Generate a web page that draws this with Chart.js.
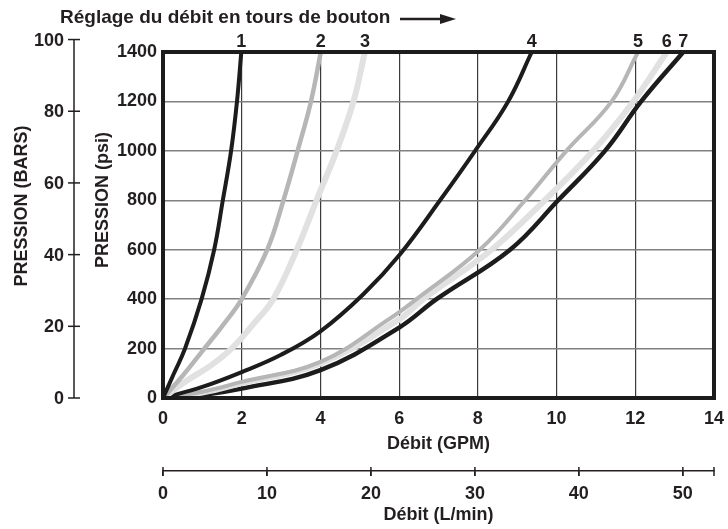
<!DOCTYPE html>
<html>
<head>
<meta charset="utf-8">
<script src="https://cdn.jsdelivr.net/npm/chart.js@4.4.0/dist/chart.umd.min.js"></script>
<style>
  html, body { margin: 0; padding: 0; background: #fff; }
  #wrap { width: 728px; height: 529px; position: relative; }
</style>
</head>
<body>
<div id="wrap"><canvas id="chart"></canvas></div>
<script>
// flow (GPM) / pressure (psi), one pair per knob setting
const gpm1 = [0, 0.28, 0.56, 0.98, 1.30, 1.52, 1.73, 1.88, 1.99];
const psi1 = [0, 100, 200, 400, 600, 800, 1000, 1200, 1400];
const gpm2 = [0, 0.5, 1.0, 1.5, 2.0, 2.65, 3.06, 3.42, 3.76, 4.01];
const psi2 = [0, 90, 190, 290, 400, 600, 800, 1000, 1200, 1400];
const gpm3 = [0, 0.6, 1.2, 1.74, 2.3, 2.8, 3.40, 3.90, 4.41, 4.84, 5.13];
const psi3 = [0, 70, 130, 200, 300, 400, 600, 800, 1000, 1200, 1400];
const gpm4 = [0, 1, 2, 3, 4, 5.09, 6.04, 7.04, 7.93, 8.77, 9.37];
const psi4 = [0, 45, 105, 175, 270, 420, 585, 800, 1000, 1200, 1400];
const gpm5 = [0, 1, 2, 4, 5.77, 6.44, 8.05, 9.2, 10.25, 11.40, 12.07];
const psi5 = [0, 25, 65, 146, 322, 400, 600, 800, 1000, 1200, 1400];
const gpm6 = [0, 1, 2, 4, 6, 6.61, 8.35, 9.7, 10.93, 11.95, 12.80];
const psi6 = [0, 22, 60, 140, 318, 400, 600, 800, 1000, 1200, 1400];
const gpm7 = [0, 1, 2, 4, 6, 6.95, 8.82, 10.04, 11.23, 12.15, 13.22];
const psi7 = [0, 12, 38, 113, 285, 400, 600, 800, 1000, 1200, 1400];

const curveLabels = ['1', '2', '3', '4', '5', '6', '7'];
const barTicks = [0, 20, 40, 60, 80, 100];
const PSI_PER_BAR = 14.5038;
const LPM_PER_GPM = 3.78541;

const ink = '#231f20';
const black = '#1c1c1c';
const midGray = '#b6b6b6';
const lightGray = '#e1e1e1';
const curveColors = [black, midGray, lightGray, black, midGray, lightGray, black];
const curveWidths = [4, 4.5, 6, 4, 4, 6, 4.5];
const FONT = '"Liberation Sans", Arial, sans-serif';

const gpmSets = [gpm1, gpm2, gpm3, gpm4, gpm5, gpm6, gpm7];
const psiSets = [psi1, psi2, psi3, psi4, psi5, psi6, psi7];

const datasets = gpmSets.map((xs, i) => ({
  label: curveLabels[i],
  data: xs.map((x, j) => ({ x: x, y: psiSets[i][j] })),
  borderColor: curveColors[i],
  borderWidth: curveWidths[i],
  pointRadius: 0,
  fill: false,
  tension: 0.4
}));

const extras = {
  id: 'extras',
  afterDatasetsDraw(chart) {
    const { ctx, chartArea: a } = chart;
    ctx.save();
    ctx.strokeStyle = black;
    ctx.lineWidth = 4;
    ctx.strokeRect(a.left, a.top, a.right - a.left, a.bottom - a.top);
    ctx.restore();
  },
  afterDraw(chart) {
    const { ctx } = chart;
    const y = chart.scales.y;
    ctx.save();
    ctx.fillStyle = ink;
    ctx.strokeStyle = ink;

    // bar axis, placed with the psi scale
    const barTop = y.getPixelForValue(barTicks[barTicks.length - 1] * PSI_PER_BAR);
    const barBottom = y.getPixelForValue(0);
    ctx.lineWidth = 1.5;
    ctx.beginPath();
    ctx.moveTo(74, barTop);
    ctx.lineTo(74, barBottom);
    ctx.stroke();
    ctx.font = 'bold 18px ' + FONT;
    ctx.textAlign = 'right';
    ctx.textBaseline = 'middle';
    barTicks.forEach(b => {
      const py = y.getPixelForValue(b * PSI_PER_BAR);
      ctx.beginPath();
      ctx.moveTo(68, py);
      ctx.lineTo(80, py);
      ctx.stroke();
      ctx.fillText(String(b), 64, py + 1);
    });

    // rotated axis titles
    ctx.textAlign = 'center';
    [['PRESSION (BARS)', 22, 206], ['PRESSION (psi)', 103, 200]].forEach(([t, x, cy]) => {
      ctx.save();
      ctx.translate(x, cy);
      ctx.rotate(-Math.PI / 2);
      ctx.fillText(t, 0, 0);
      ctx.restore();
    });

    // knob turn numbers above each curve end
    chart.data.datasets.forEach((ds, i) => {
      const pts = chart.getDatasetMeta(i).data;
      const last = pts[pts.length - 1];
      ctx.fillText(curveLabels[i], last.x, 42);
    });

    // L/min ticks cross the axis line, plus one at the end of the axis
    const x2 = chart.scales.x2;
    ctx.lineWidth = 1.5;
    x2.ticks.map(t => t.value).concat([x2.max]).forEach(v => {
      const px = x2.getPixelForValue(v);
      ctx.beginPath();
      ctx.moveTo(px, x2.top - 4);
      ctx.lineTo(px, x2.top + 5);
      ctx.stroke();
    });

    // header with arrow
    ctx.font = 'bold 19px ' + FONT;
    ctx.textAlign = 'left';
    ctx.fillText('Réglage du débit en tours de bouton', 60, 18);
    ctx.lineWidth = 2.5;
    ctx.beginPath();
    ctx.moveTo(400, 19);
    ctx.lineTo(442, 19);
    ctx.stroke();
    ctx.beginPath();
    ctx.moveTo(456, 19);
    ctx.lineTo(440, 14);
    ctx.lineTo(440, 24);
    ctx.closePath();
    ctx.fill();
    ctx.restore();
  }
};

const tickFont = { family: FONT, size: 18, weight: 'bold' };

new Chart(document.getElementById('chart'), {
  type: 'line',
  data: { datasets: datasets },
  plugins: [extras],
  options: {
    responsive: true,
    maintainAspectRatio: false,
    animation: false,
    devicePixelRatio: 1,
    layout: { padding: { top: 52, right: 12, bottom: 2, left: 0 } },
    plugins: { legend: { display: false }, tooltip: { enabled: false } },
    scales: {
      x: {
        type: 'linear',
        position: 'bottom',
        min: 0,
        max: 14,
        ticks: { stepSize: 2, color: ink, font: tickFont, padding: 4, maxRotation: 0 },
        grid: { color: '#3a3a3a', lineWidth: 1.2, drawTicks: true, tickLength: 6, tickColor: 'rgba(0,0,0,0)' },
        border: { display: false },
        title: { display: true, text: 'Débit (GPM)', color: ink, font: tickFont, padding: { top: 0, bottom: 16 } },
        afterFit: s => { s.height = 73; }
      },
      x2: {
        type: 'linear',
        position: 'bottom',
        min: 0,
        max: 14 * LPM_PER_GPM,
        ticks: {
          stepSize: 10, color: ink, font: tickFont, padding: 7, maxRotation: 0,
          autoSkip: false, includeBounds: false
        },
        grid: { drawOnChartArea: false, color: ink, lineWidth: 1.5, tickLength: 5 },
        border: { display: true, color: ink, width: 1.5 },
        title: { display: true, text: 'Débit (L/min)', color: ink, font: tickFont, padding: { top: 0, bottom: 1 } },
        afterFit: s => { s.height = 56; }
      },
      y: {
        type: 'linear',
        min: 0,
        max: 1400,
        ticks: { stepSize: 200, color: ink, font: tickFont, padding: 6, callback: v => String(v) },
        grid: { color: '#808080', lineWidth: 1.5, drawTicks: false },
        border: { display: false },
        afterFit: s => { s.width = 163; }
      }
    }
  }
});
</script>
</body>
</html>
